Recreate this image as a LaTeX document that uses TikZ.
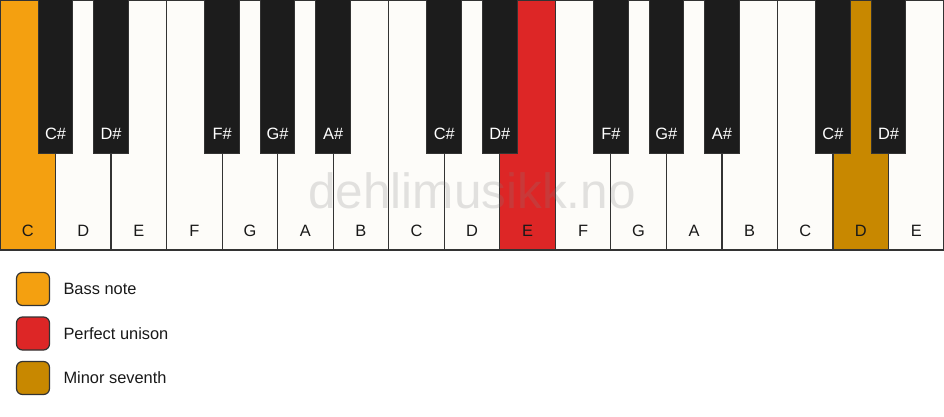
\documentclass[tikz,border=0pt]{standalone}
\usepackage{fontspec}
\setmainfont{Liberation Sans}
\usepackage{xcolor}
\usepackage{tikz}
\definecolor{bass_orange}{RGB}{244,160,16}
\definecolor{unison_red}{RGB}{221,38,38}
\definecolor{seventh_gold}{RGB}{200,136,0}
\definecolor{key_white}{RGB}{253,252,249}
\definecolor{key_black}{RGB}{28,28,28}
\definecolor{key_edge}{RGB}{51,51,51}
\tikzset{
    keylabel/.style={font=\fontsize{16.4}{19}\selectfont, text=black!90},
    legbox/.style={draw=key_edge, line width=1.2pt, rounded corners=6pt, minimum size=33pt, inner sep=0pt},
}

\begin{document}
\begin{tikzpicture}[x=1pt,y=-1pt]
    \useasboundingbox[fill=white] (0,0) rectangle (944,417);
    % White keys
    \foreach \n/\c [count=\i from 0] in {C/bass_orange,D/key_white,E/key_white,F/key_white,G/key_white,A/key_white,B/key_white,C/key_white,D/key_white,E/unison_red,F/key_white,G/key_white,A/key_white,B/key_white,C/key_white,D/seventh_gold,E/key_white}
    {
        \draw[key_edge, line width=1.2pt, fill=\c] (\i*55.53,0) rectangle ++(55.53,250);
        \node[keylabel] (w\i) at (\i*55.53+27.76,230.5) {\n};
    }
    % Watermark
    \node[font=\fontsize{49.5}{58}\selectfont, text=gray, opacity=0.22] (mark) at (472,191) {dehlimusikk.no};
    % Black keys
    \foreach \b/\t in {1/C\#,2/D\#,4/F\#,5/G\#,6/A\#,8/C\#,9/D\#,11/F\#,12/G\#,13/A\#,15/C\#,16/D\#}
    {
        \draw[key_edge, line width=1pt, fill=key_black] (\b*55.53-17.25,0) rectangle ++(34.5,153);
        \node[keylabel, text=white] (b\b) at (\b*55.53,133.5) {\t};
    }
    % Legend
    \node[legbox, fill=bass_orange] (bass) at (33,289) {};
    \node[keylabel, anchor=west] (bass text) at (60,289) {Bass note};
    \node[legbox, fill=unison_red] (unison) at (33,333.5) {};
    \node[keylabel, anchor=west] (unison text) at (60,333.5) {Perfect unison};
    \node[legbox, fill=seventh_gold] (seventh) at (33,378) {};
    \node[keylabel, anchor=west] (seventh text) at (60,378) {Minor seventh};
\end{tikzpicture}
\end{document}
